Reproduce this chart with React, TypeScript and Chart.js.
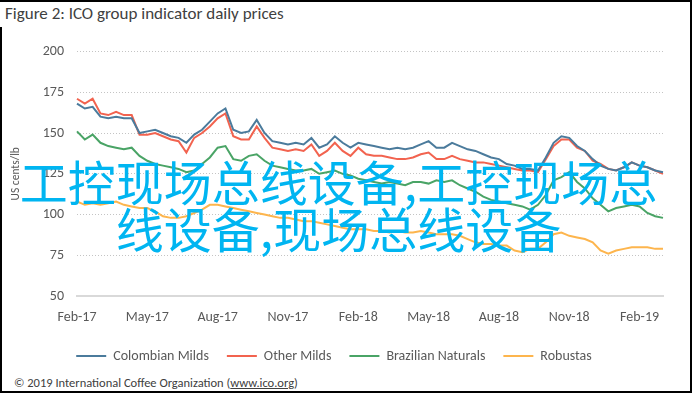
import { useEffect, useRef } from "react";
import { Chart, registerables } from "chart.js";

Chart.register(...registerables);

// Three points per month, Feb-17 .. end Feb-19
const tickLabels = ["Feb-17", "May-17", "Aug-17", "Nov-17", "Feb-18", "May-18", "Aug-18", "Nov-18", "Feb-19"];
const pointsPerTick = 9;
const yTickValues = [50, 75, 100, 125, 150, 175, 200];
const seriesNames = ["Colombian Milds", "Other Milds", "Brazilian Naturals", "Robustas"];

const colombianMilds = [
  168, 165, 166, 160, 159, 160, 159, 159, 150, 151, 152, 150, 148, 147, 144, 149, 152, 157, 162, 165,
  152, 150, 151, 158, 150, 145, 144, 143, 144, 143, 147, 141, 143, 148, 144, 141, 144, 143, 142, 141,
  140, 141, 140, 141, 143, 145, 141, 141, 144, 142, 140, 139, 137, 135, 134, 131, 130, 128, 128, 127,
  135, 144, 148, 147, 142, 139, 134, 130, 128, 127, 129, 132, 130, 129, 127, 126,
];
const otherMilds = [
  171, 168, 171, 162, 161, 163, 161, 161, 149, 149, 150, 148, 146, 145, 138, 147, 150, 154, 159, 162,
  148, 146, 146, 154, 147, 141, 140, 139, 140, 139, 143, 136, 139, 144, 139, 136, 141, 137, 136, 136,
  135, 134, 134, 135, 137, 138, 134, 134, 136, 134, 133, 132, 132, 131, 130, 129, 128, 127, 127, 126,
  134, 142, 146, 146, 141, 139, 133, 131, 128, 127, 129, 132, 130, 129, 127, 125,
];
const brazilianNaturals = [
  151, 146, 149, 144, 142, 141, 140, 141, 136, 133, 131, 130, 129, 128, 126, 127, 131, 135, 141, 142,
  134, 133, 136, 137, 133, 130, 129, 128, 127, 127, 128, 125, 126, 127, 125, 124, 122, 121, 120, 119,
  120, 119, 118, 120, 120, 119, 121, 120, 121, 118, 116, 114, 111, 109, 108, 107, 106, 105, 103, 106,
  112, 121, 123, 126, 120, 116, 110, 106, 102, 104, 105, 106, 105, 101, 99, 98,
];
const robustas = [
  108, 106, 107, 106, 107, 108, 106, 105, 104, 104, 102, 99, 98, 98, 99, 101, 103, 106, 106, 105,
  104, 103, 102, 101, 100, 99, 98, 98, 97, 96, 96, 95, 94, 93, 92, 91, 91, 91, 90, 90,
  89, 90, 89, 89, 90, 89, 88, 88, 88, 87, 85, 83, 82, 82, 81, 81, 78, 77, 79, 79,
  83, 88, 89, 87, 86, 85, 83, 78, 76, 78, 79, 80, 80, 80, 79, 79,
];

const seriesColors = ["#4b7b9c", "#f2634f", "#4aa466", "#fdb54d"];

const categories = colombianMilds.map((_, i) =>
  i % pointsPerTick === 0 ? tickLabels[i / pointsPerTick] : ""
);

const FONT = "Carlito, Lato, 'Open Sans', sans-serif";
const TEXT = "#595959";

function ChartCanvas() {
  const ref = useRef<HTMLCanvasElement | null>(null);
  useEffect(() => {
    if (!ref.current) return;
    const all = [colombianMilds, otherMilds, brazilianNaturals, robustas];
    const chart = new Chart(ref.current, {
      type: "line",
      data: {
        labels: categories,
        datasets: all.map((d, k) => ({
          label: seriesNames[k],
          data: d,
          borderColor: seriesColors[k],
          backgroundColor: seriesColors[k],
          borderWidth: 2,
          pointRadius: 0,
          tension: 0,
        })),
      },
      options: {
        animation: false,
        responsive: false,
        maintainAspectRatio: false,
        layout: { padding: { left: 5, right: 32, top: 21, bottom: 2 } },
        plugins: {
          tooltip: { enabled: false },
          legend: {
            position: "bottom",
            labels: {
              usePointStyle: true,
              pointStyle: "line",
              pointStyleWidth: 30,
              color: TEXT,
              padding: 18,
              font: { family: FONT, size: 14 },
            },
          },
        },
        scales: {
          x: {
            grid: { display: false },
            border: { display: true, color: "#d9d9d9", width: 2 },
            ticks: {
              autoSkip: false,
              maxRotation: 0,
              minRotation: 0,
              color: TEXT,
              padding: 5,
              font: { family: FONT, size: 14 },
            },
          },
          y: {
            min: 50,
            max: 200,
            afterBuildTicks: (s: any) => {
              s.ticks = yTickValues.map((v) => ({ value: v }));
            },
            afterFit: (s: any) => {
              s.width = 72;
            },
            ticks: {
              color: TEXT,
              padding: 13,
              font: { family: FONT, size: 14 },
            },
            grid: { color: "#c4c4c4", lineWidth: 1, drawTicks: false },
            border: { display: false, dash: [1, 2] },
            title: {
              display: true,
              text: "US cents/lb",
              color: TEXT,
              font: { family: FONT, size: 11.5 },
            },
          },
        },
      },
    });
    return () => chart.destroy();
  }, []);
  return (
    <canvas
      ref={ref}
      width={695}
      height={345}
      style={{ position: "absolute", left: 0, top: 30, width: 695, height: 345 }}
    />
  );
}

export default function App() {
  return (
    <div
      style={{
        position: "absolute",
        left: 0,
        top: 0,
        width: 695,
        height: 394,
        background: "#fff",
        overflow: "hidden",
        fontFamily: FONT,
      }}
    >
      <div
        style={{
          position: "absolute",
          left: 0,
          top: 0,
          width: 690,
          height: 389,
          borderTop: "2px solid #000",
          borderRight: "2px solid #000",
          borderBottom: "2px solid #000",
        }}
      />
      <div style={{ position: "absolute", left: 0, top: 27, width: 2, height: 365, background: "#000" }} />
      <div
        style={{
          position: "absolute",
          left: 5,
          top: 3,
          fontSize: 17,
          color: "#404040",
          whiteSpace: "nowrap",
        }}
      >
        Figure 2: ICO group indicator daily prices
      </div>
      <ChartCanvas />
      <div
        style={{
          position: "absolute",
          left: 14,
          top: 375,
          fontSize: 12.5,
          color: "#404040",
          whiteSpace: "nowrap",
        }}
      >
        © 2019 International Coffee Organization (<span style={{ textDecoration: "underline" }}>www.ico.org</span>)
      </div>
      <div
        style={{
          position: "absolute",
          left: 6,
          top: 157,
          width: 665,
          textAlign: "center",
          fontFamily: "'Noto Sans CJK SC', sans-serif",
          fontSize: 48,
          lineHeight: "47px",
          color: "#00b5f1",
          whiteSpace: "nowrap",
        }}
      >
        工控现场总线设备,工控现场总
        <br />
        线设备,现场总线设备
      </div>
    </div>
  );
}
